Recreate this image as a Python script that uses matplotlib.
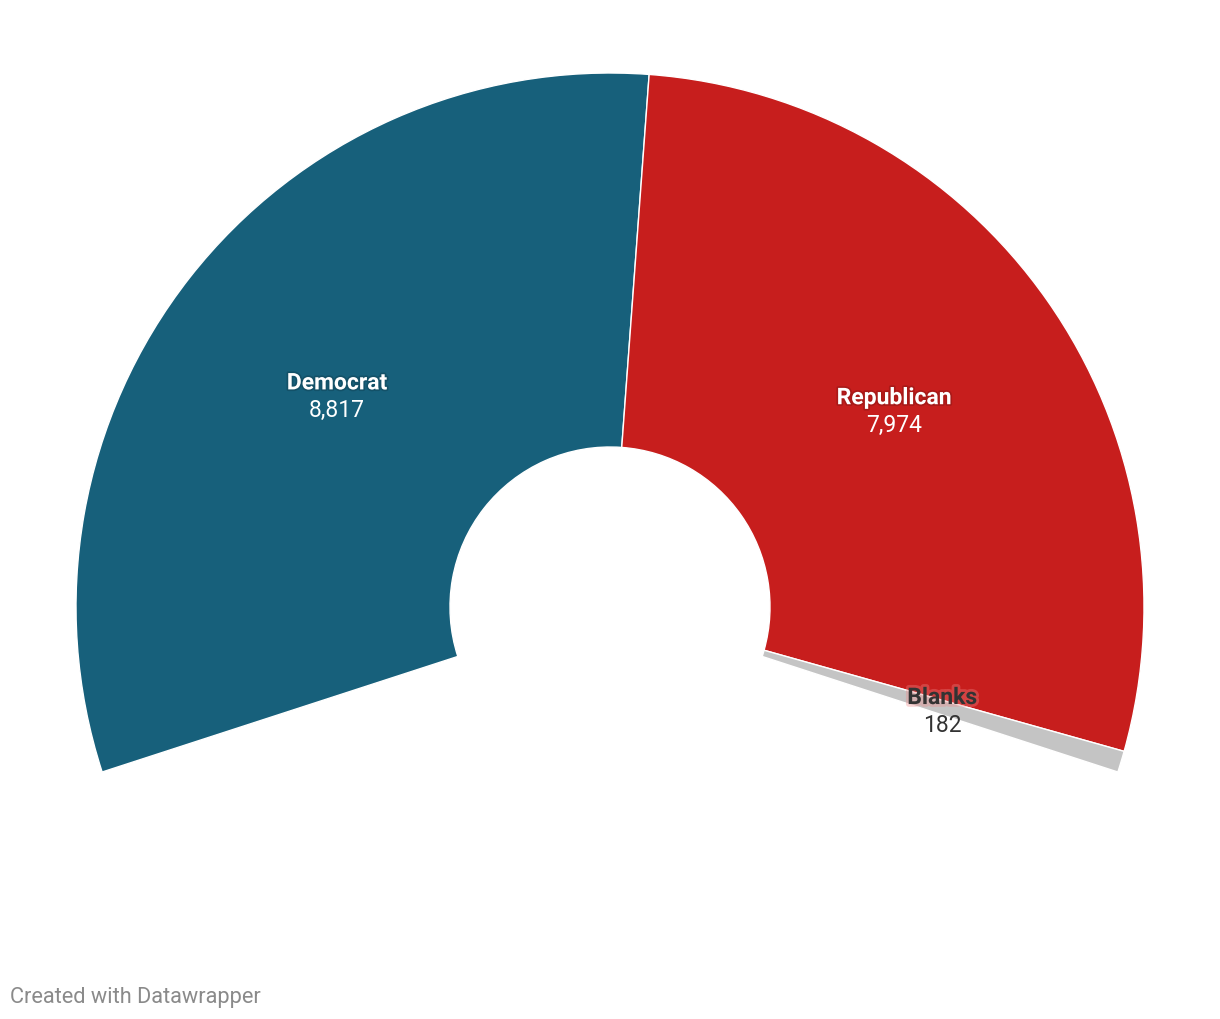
import numpy as np
import matplotlib.pyplot as plt
import matplotlib.patheffects as pe

plt.rcParams['font.family'] = ['Roboto', 'DejaVu Sans']

# vote counts
labels = ["Democrat", "Republican", "Blanks"]
values = [8817, 7974, 182]
colors = ["#17607b", "#c71e1d", "#c4c4c4"]
text_colors = ["white", "white", "#333333"]

# the half-donut covers 216 degrees, starting at lower left
arc_span = 216
start_angle = 198

fig = plt.figure(figsize=(12.2, 10.2), dpi=100)
ax = fig.add_axes([0, 0, 1, 1])

total = sum(values)
filler = total * (360 - arc_span) / arc_span
center = (610, 1020 - 608)
r_out = 534
r_in = 160

wedges, _ = ax.pie(values + [filler], colors=colors + ["none"], startangle=start_angle,
                   counterclock=False, radius=r_out, center=center, frame=True,
                   wedgeprops=dict(width=r_out - r_in, edgecolor="white", linewidth=1))
wedges[-1].set_edgecolor("none")
ax.set_xlim(0, 1220)
ax.set_ylim(0, 1020)
ax.set_aspect('equal')
ax.axis('off')

r_mid = (r_out + r_in) / 2
for w, lab, v, tc in zip(wedges[:3], labels, values, text_colors):
    ang = np.deg2rad((w.theta1 + w.theta2) / 2)
    x = center[0] + r_mid * np.cos(ang)
    y = center[1] + r_mid * np.sin(ang) - 4
    if tc == "white":
        effects = [pe.withStroke(linewidth=2.5, foreground="black", alpha=0.15)]
    else:
        effects = [pe.withStroke(linewidth=4, foreground="#e88", alpha=0.35)]
    ax.text(x, y + 14, lab, ha='center', va='center', fontsize=16.5, fontweight='bold',
            color=tc, path_effects=effects)
    ax.text(x, y - 13, f"{v:,}", ha='center', va='center', fontsize=16.5, color=tc)

fig.text(10 / 1220, 1 - 998 / 1020, "Created with Datawrapper", ha='left', va='center',
         fontsize=15.7, color="#8a8a8a")

fig.savefig("out.png", dpi=100, facecolor="white")
